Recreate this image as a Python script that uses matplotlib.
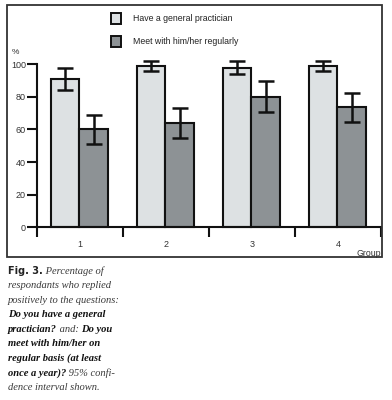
import numpy as np
import matplotlib
matplotlib.use("Agg")
import matplotlib.pyplot as plt
from matplotlib.patches import Rectangle

# data
groups = ["1", "2", "3", "4"]
have_gp = [91, 99, 98, 99]
have_gp_ci = [6.5, 3, 4, 3]
meet_gp = [60, 64, 80, 73.5]
meet_gp_ci = [9, 9, 9.5, 9]
yticks = [0, 20, 40, 60, 80, 100]

light = "#dde1e3"
dark = "#8d9295"
sans = "Liberation Sans"

W, H = 392, 400
fig = plt.figure(figsize=(W / 100, H / 100), dpi=100)

def fx(px):
    return px / W

def fy(py):
    return 1 - py / H

# outer frame
fig.patches.append(Rectangle((fx(7), fy(257)), fx(382) - fx(7), fy(5) - fy(257),
                             transform=fig.transFigure, fill=False,
                             edgecolor="#333333", linewidth=1.3))

# axes: x from 37 to 381 px, y=0 at 227.3 px and y=100 at 64.3 px
ax = fig.add_axes([fx(37), fy(227.3), fx(381) - fx(37), fy(64.3) - fy(227.3)])
x = np.arange(len(groups))
bw = 0.335
ekw = dict(elinewidth=1.8, capthick=1.8, ecolor="#111111", capsize=5.8)
ax.bar(x + 0.325, have_gp, bw, color=light, edgecolor="#111111", linewidth=1.5,
       yerr=have_gp_ci, error_kw=dict(ekw, clip_on=False), clip_on=False)
ax.bar(x + 0.66, meet_gp, bw, color=dark, edgecolor="#111111", linewidth=1.5,
       yerr=meet_gp_ci, error_kw=dict(ekw, clip_on=False), clip_on=False)

ax.set_xlim(0, 4)
ax.set_ylim(0, 100)
for s in ["top", "right"]:
    ax.spines[s].set_visible(False)
for s in ["left", "bottom"]:
    ax.spines[s].set_linewidth(1.5)
    ax.spines[s].set_color("#111111")

ax.set_yticks(yticks)
ax.set_xticks(np.arange(5))
ax.set_xticklabels([])
ax.set_xticks(x + 0.5, minor=True)
ax.set_xticklabels(groups, minor=True)
ax.tick_params(axis="y", length=7, width=1.5, color="#111111", labelsize=6.5,
               labelcolor="#333333", pad=1)
ax.tick_params(axis="x", which="major", length=7.5, width=1.5, color="#111111")
ax.tick_params(axis="x", which="minor", length=0, labelsize=6.5,
               labelcolor="#333333", pad=9)
for lab in ax.get_yticklabels() + ax.get_xticklabels(minor=True):
    lab.set_family(sans)

fig.text(fx(12), fy(52), "%", fontsize=6, color="#333333", va="center", family=sans)
fig.text(fx(381), fy(253), "Group", fontsize=6.3, color="#333333",
         ha="right", va="center", family=sans)

# legend
for py, col, lab in [(18.5, light, "Have a general practician"),
                     (41.5, dark, "Meet with him/her regularly")]:
    fig.patches.append(Rectangle((fx(111), fy(py + 5)), fx(10), 10 / H,
                                 transform=fig.transFigure, facecolor=col,
                                 edgecolor="#111111", linewidth=1.4))
    fig.text(fx(133), fy(py), lab, fontsize=6.3, color="#222222", va="center",
             family=sans)

# caption with mixed styles
fig.canvas.draw()
rend = fig.canvas.get_renderer()
serif = "Liberation Serif"
it = dict(family=serif, style="italic", color="#3a3a3a", fontsize=7.6)
bi = dict(family=serif, style="italic", weight="bold", color="#111111", fontsize=7.6)
bs = dict(family="DejaVu Sans", weight="bold", color="#222222", fontsize=7)

lines = [
    [("Fig. 3.", bs), (" Percentage of", it)],
    [("respondants who replied", it)],
    [("positively to the questions:", it)],
    [("Do you have a general", bi)],
    [("practician?", bi), (" and: ", it), ("Do you", bi)],
    [("meet with him/her on", bi)],
    [("regular basis (at least", bi)],
    [("once a year)?", bi), (" 95% confi-", it)],
    [("dence interval shown.", it)],
]
y0 = 271
for i, segs in enumerate(lines):
    px = 8
    for txt, style in segs:
        t = fig.text(fx(px), fy(y0 + i * 14.6), txt, va="center", ha="left", **style)
        bb = t.get_window_extent(renderer=rend)
        px += bb.width

fig.savefig("out.png", dpi=100)
